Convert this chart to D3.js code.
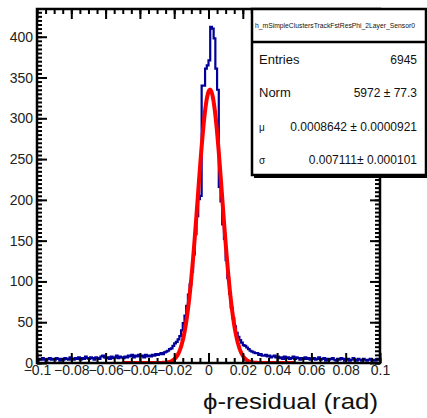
<!DOCTYPE html>
<html>
<head>
<meta charset="utf-8">
<script src="https://cdn.jsdelivr.net/npm/d3@7"></script>
<style>
body{margin:0;background:#fff;}
svg{display:block;font-family:"Liberation Sans",Arial,Helvetica,sans-serif;}
</style>
</head>
<body>
<div id="chart"></div>
<script>
// histogram: 200 bins of 0.001 from -0.1 to 0.1
const binStart=-0.1;
const binWidth=0.001;
const counts=[
  3,5,4,6,4,3,5,6,4,5, 4,6,5,3,5,4,6,5,4,7, 5,4,6,5,7,4,6,5,8,6, 5,7,6,4,7,6,5,8,9,7,
  6,7,5,8,6,7,9,6,8,7, 6,8,7,9,8,10,7,9,8,10,
  8,9,7,10,8,9,8,10,9,11, 10,11,12,11,13,14,15,17,18,21,
  24,26,29,33,40,49,58,70,84,96,
  112,133,158,180,201,205,340,340,361,365,
  371,412,410,398,361,335,216,198,170,152,
  126,104,85,68,55,45,37,32,28,25,
  22,21,19,17,15,14,13,12,12,10, 11,9,9,10,8,9,7,8,9,7,
  8,6,7,5,8,6,7,5,6,8, 5,7,6,4,6,5,7,5,6,4, 5,6,4,5,7,4,5,6,3,5,
  4,5,6,4,3,5,4,6,5,3, 4,5,3,4,6,4,3,5,4,3, 5,4,3,4,5,3,4,3,5,4
];

// gaussian fit (parameters as shown in the stats box)
const fitNorm=5972;
const fitMean=0.0008642;
const fitSigma=0.007111;
const fitRange=[-0.05,0.05];

const xTickValues=[-0.1,-0.08,-0.06,-0.04,-0.02,0,0.02,0.04,0.06,0.08,0.1];
const xTickLabels=["\u22120.1","\u22120.08","\u22120.06","\u22120.04","\u22120.02","0","0.02","0.04","0.06","0.08","0.1"];
const yTickValues=[0,50,100,150,200,250,300,350,400];
const yTickLabels=["0","50","100","150","200","250","300","350","400"];

const histName="h_mSimpleClustersTrackFstResPhi_2Layer_Sensor0";
const statNames=["Entries","Norm","\u03bc","\u03c3"];
const statValues=["6945","5972 \u00b1 77.3","0.0008642 \u00b1 0.0000921","0.007111\u00b1 0.000101"];
const xTitle="\u03d5-residual (rad)";

const width=427, height=418;
const margin_left=37, margin_right=47, margin_top=9, margin_bottom=55;

const svg=d3.select("#chart").append("svg")
  .attr("width",width).attr("height",height);

const x_scale=d3.scaleLinear()
  .domain([-0.1,0.1])
  .range([margin_left,width-margin_right]);
const y_scale=d3.scaleLinear()
  .domain([0,434])
  .range([height-margin_bottom,margin_top]);

svg.append("clipPath").attr("id","frameClip")
  .append("rect")
  .attr("x",margin_left).attr("y",margin_top)
  .attr("width",x_scale(0.1)-x_scale(-0.1))
  .attr("height",y_scale(0)-y_scale(434));

// histogram outline
let histPoints=counts.map((c,i)=>[binStart+i*binWidth,c]);
histPoints.push([binStart+counts.length*binWidth,counts[counts.length-1]]);
const stepLine=d3.line()
  .x(d=>x_scale(d[0]))
  .y(d=>y_scale(d[1]))
  .curve(d3.curveStepAfter);
svg.append("path")
  .attr("clip-path","url(#frameClip)")
  .attr("d",stepLine(histPoints))
  .attr("fill","none")
  .attr("stroke","#000099")
  .attr("stroke-width",2.2);

// fit curve
const amp=fitNorm*binWidth/(fitSigma*Math.sqrt(2*Math.PI));
const fitX=d3.range(fitRange[0],fitRange[1]+1e-9,(fitRange[1]-fitRange[0])/400);
const fitLine=d3.line()
  .x(d=>x_scale(d))
  .y(d=>y_scale(amp*Math.exp(-0.5*Math.pow((d-fitMean)/fitSigma,2))));
svg.append("path")
  .attr("clip-path","url(#frameClip)")
  .attr("d",fitLine(fitX))
  .attr("fill","none")
  .attr("stroke","#ff0000")
  .attr("stroke-width",4);

// axes, ticks pointing inwards like ROOT
const xMinor=d3.range(-0.1,0.1001,0.005);
const yMinor=d3.range(0,434,5);

function styleAxis(g){
  g.select(".domain").remove();
  g.selectAll(".tick line").attr("stroke","#000").attr("stroke-width",2);
  g.selectAll("text").attr("fill","#222").style("font-size","14px");
}

const bottomY=y_scale(0), topY=y_scale(434);
const leftX=x_scale(-0.1), rightX=x_scale(0.1);

svg.append("g").attr("transform","translate(0,"+bottomY+")")
  .call(d3.axisBottom(x_scale).tickValues(xMinor).tickFormat("").tickSizeInner(-5).tickSizeOuter(0))
  .call(styleAxis);
svg.append("g").attr("transform","translate(0,"+bottomY+")")
  .call(d3.axisBottom(x_scale).tickValues(xTickValues).tickFormat((d,i)=>xTickLabels[i]).tickSizeInner(-10).tickSizeOuter(0).tickPadding(2))
  .call(styleAxis);
svg.append("g").attr("transform","translate(0,"+topY+")")
  .call(d3.axisTop(x_scale).tickValues(xMinor).tickFormat("").tickSizeInner(-5).tickSizeOuter(0))
  .call(styleAxis);
svg.append("g").attr("transform","translate(0,"+topY+")")
  .call(d3.axisTop(x_scale).tickValues(xTickValues).tickFormat("").tickSizeInner(-10).tickSizeOuter(0))
  .call(styleAxis);

svg.append("g").attr("transform","translate("+leftX+",0)")
  .call(d3.axisLeft(y_scale).tickValues(yMinor).tickFormat("").tickSizeInner(-5).tickSizeOuter(0))
  .call(styleAxis);
svg.append("g").attr("transform","translate("+leftX+",0)")
  .call(d3.axisLeft(y_scale).tickValues(yTickValues).tickFormat((d,i)=>yTickLabels[i]).tickSizeInner(-10).tickSizeOuter(0).tickPadding(4))
  .call(styleAxis);
svg.append("g").attr("transform","translate("+rightX+",0)")
  .call(d3.axisRight(y_scale).tickValues(yMinor).tickFormat("").tickSizeInner(-5).tickSizeOuter(0))
  .call(styleAxis);
svg.append("g").attr("transform","translate("+rightX+",0)")
  .call(d3.axisRight(y_scale).tickValues(yTickValues).tickFormat("").tickSizeInner(-10).tickSizeOuter(0))
  .call(styleAxis);

// frame
svg.append("rect")
  .attr("x",leftX).attr("y",topY)
  .attr("width",rightX-leftX).attr("height",bottomY-topY)
  .attr("fill","none").attr("stroke","#000").attr("stroke-width",2.5);

// axis title
svg.append("text")
  .attr("x",rightX-2).attr("y",409)
  .attr("text-anchor","end")
  .attr("textLength",175).attr("lengthAdjust","spacingAndGlyphs")
  .style("font-size","22px")
  .attr("fill","#111")
  .text(xTitle);

// stats box
const boxX=252, boxY=9, boxW=174, boxH=166, titleH=33;
svg.append("line")
  .attr("x1",boxX+2).attr("x2",width).attr("y1",boxY+boxH+1.5).attr("y2",boxY+boxH+1.5)
  .attr("stroke","#000").attr("stroke-width",3);
svg.append("rect")
  .attr("x",boxX).attr("y",boxY).attr("width",boxW).attr("height",boxH)
  .attr("fill","#fff").attr("stroke","#000").attr("stroke-width",2.5);
svg.append("line")
  .attr("x1",boxX).attr("x2",boxX+boxW).attr("y1",boxY+titleH).attr("y2",boxY+titleH)
  .attr("stroke","#000").attr("stroke-width",2.5);
svg.append("text")
  .attr("x",boxX+3).attr("y",boxY+19)
  .attr("textLength",160).attr("lengthAdjust","spacingAndGlyphs")
  .style("font-size","7.2px")
  .attr("fill","#111")
  .text(histName);

const rowY=[64,97,131,164];
statNames.forEach((n,i)=>{
  svg.append("text")
    .attr("x",boxX+7).attr("y",rowY[i])
    .style("font-size",i<2?"13px":"10px")
    .attr("fill","#111")
    .text(n);
  svg.append("text")
    .attr("x",417).attr("y",rowY[i])
    .attr("text-anchor","end")
    .style("font-size","12px")
    .attr("fill","#111")
    .text(statValues[i]);
});
</script>
</body>
</html>
